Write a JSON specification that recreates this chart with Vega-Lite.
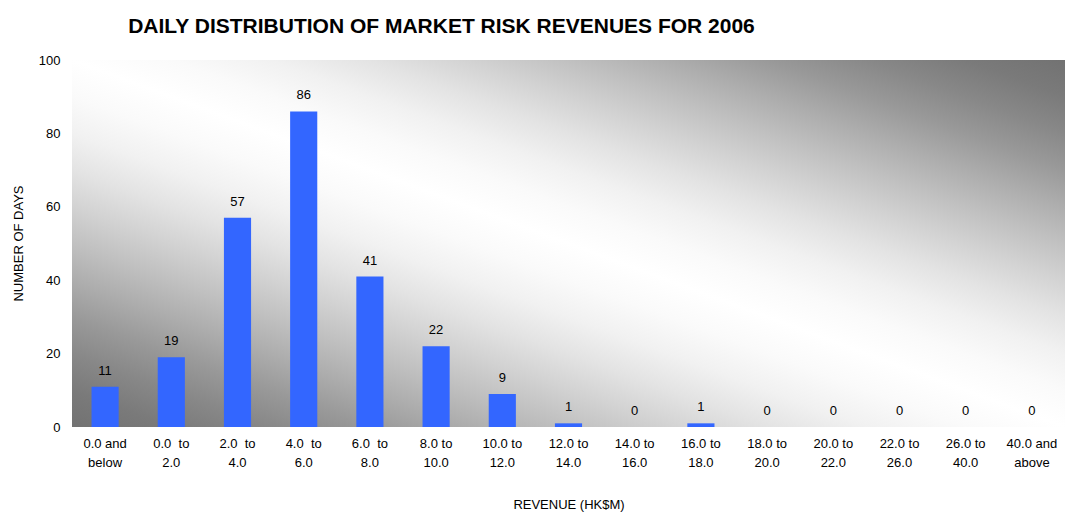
{
  "$schema": "https://vega.github.io/schema/vega-lite/v6.json",
  "autosize": "none",
  "width": 993,
  "height": 367,
  "padding": {"left": 72, "top": 60, "right": 0, "bottom": 85},
  "background": "white",
  "config": {
    "font": "Liberation Sans",
    "view": {
      "stroke": null,
      "fill": {
        "gradient": "linear",
        "x1": 0, "y1": 1, "x2": 1, "y2": 0,
        "stops": [
          {"offset": 0, "color": "#727272"},
          {"offset": 0.05, "color": "#7a7a7a"},
          {"offset": 0.1, "color": "#888888"},
          {"offset": 0.15, "color": "#999999"},
          {"offset": 0.2, "color": "#adadad"},
          {"offset": 0.25, "color": "#c0c0c0"},
          {"offset": 0.3, "color": "#d2d2d2"},
          {"offset": 0.35, "color": "#e3e3e3"},
          {"offset": 0.4, "color": "#f1f1f1"},
          {"offset": 0.45, "color": "#fafafa"},
          {"offset": 0.5, "color": "#ffffff"},
          {"offset": 0.55, "color": "#fafafa"},
          {"offset": 0.6, "color": "#f1f1f1"},
          {"offset": 0.65, "color": "#e3e3e3"},
          {"offset": 0.7, "color": "#d2d2d2"},
          {"offset": 0.75, "color": "#c0c0c0"},
          {"offset": 0.8, "color": "#adadad"},
          {"offset": 0.85, "color": "#999999"},
          {"offset": 0.9, "color": "#888888"},
          {"offset": 0.95, "color": "#7a7a7a"},
          {"offset": 1, "color": "#727272"}
        ]
      }
    }
  },
  "data": {
    "values": [
      {"range": "0.0 and|below", "days": 11},
      {"range": "0.0\u00a0 to|2.0", "days": 19},
      {"range": "2.0\u00a0 to|4.0", "days": 57},
      {"range": "4.0\u00a0 to|6.0", "days": 86},
      {"range": "6.0\u00a0 to|8.0", "days": 41},
      {"range": "8.0 to|10.0", "days": 22},
      {"range": "10.0 to|12.0", "days": 9},
      {"range": "12.0 to|14.0", "days": 1},
      {"range": "14.0 to|16.0", "days": 0},
      {"range": "16.0 to|18.0", "days": 1},
      {"range": "18.0 to|20.0", "days": 0},
      {"range": "20.0 to|22.0", "days": 0},
      {"range": "22.0 to|26.0", "days": 0},
      {"range": "26.0 to|40.0", "days": 0},
      {"range": "40.0 and|above", "days": 0}
    ]
  },
  "resolve": {"axis": {"x": "independent"}},
  "layer": [
    {
      "mark": {"type": "bar", "color": "#3366FF"},
      "encoding": {
        "x": {
          "field": "range",
          "type": "nominal",
          "sort": null,
          "scale": {"paddingInner": 0.59, "paddingOuter": 0.295},
          "axis": {
            "orient": "bottom",
            "title": "REVENUE (HK$M)",
            "titleFontSize": 13,
            "titleFontWeight": "normal",
            "titleColor": "#000000",
            "titlePadding": 29,
            "labelExpr": "split(datum.label, '|')",
            "labelAngle": 0,
            "labelFontSize": 13,
            "labelColor": "#000000",
            "labelLineHeight": 19,
            "labelPadding": 10,
            "labelBaseline": "top",
            "domain": false,
            "ticks": false,
            "grid": false
          }
        },
        "y": {
          "field": "days",
          "type": "quantitative",
          "scale": {"domain": [0, 100]},
          "axis": {
            "title": "NUMBER OF DAYS",
            "titleFontSize": 13,
            "titleFontWeight": "normal",
            "titleColor": "#000000",
            "titleX": -54,
            "titleY": 183,
            "titleAlign": "center",
            "titleBaseline": "middle",
            "values": [0, 20, 40, 60, 80, 100],
            "labelFontSize": 13,
            "labelColor": "#000000",
            "labelPadding": 12,
            "domain": false,
            "ticks": false,
            "grid": false
          }
        }
      }
    },
    {
      "mark": {"type": "text", "baseline": "bottom", "dy": -9, "fontSize": 13, "color": "#000000"},
      "encoding": {
        "x": {
          "field": "range",
          "type": "nominal",
          "sort": null,
          "axis": {
            "orient": "top",
            "title": "DAILY DISTRIBUTION OF MARKET RISK REVENUES FOR 2006",
            "titleFontSize": 21,
            "titleFontWeight": "bold",
            "titleColor": "#000000",
            "titleFont": "Liberation Sans",
            "titleX": 369,
            "titleY": -28,
            "titleAlign": "center",
            "titleBaseline": "alphabetic",
            "labels": false,
            "domain": false,
            "ticks": false,
            "grid": false
          }
        },
        "y": {"field": "days", "type": "quantitative"},
        "text": {"field": "days", "type": "quantitative"}
      }
    }
  ]
}
